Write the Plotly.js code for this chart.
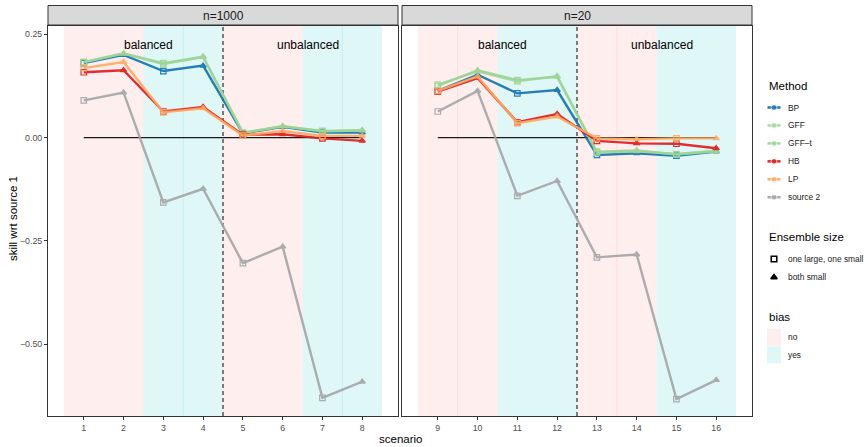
<!DOCTYPE html>
<html>
<head>
<meta charset="utf-8">
<script src="https://cdn.plot.ly/plotly-3.0.1.min.js"></script>
<style>html,body{margin:0;padding:0;background:#fff;}#chart{width:866px;height:447px;}</style>
</head>
<body>
<div id="chart"></div>
<script>
// ---------------- data ----------------
const scenarios = [1,2,3,4,5,6,7,8,9,10,11,12,13,14,15,16];
const panels = ['n=1000','n=20'];
const methods = ['BP','GFF','GFF\u2013t','HB','LP','source 2'];
const ensembleLabels = ['one large, one small','both small'];
const biasLabels = ['no','yes'];
const biasByScenario = ['no','no','yes','yes','no','no','yes','yes','no','no','yes','yes','no','no','yes','yes'];
const balanceLabels = ['balanced','unbalanced'];

const BP     = [0.180,0.200,0.161,0.174,0.010,0.026,0.012,0.012,  0.113,0.152,0.107,0.115,-0.042,-0.038,-0.044,-0.034];
const GFF    = [0.183,0.204,0.180,0.196,0.011,0.028,0.015,0.017,  0.128,0.160,0.136,0.149,-0.036,-0.033,-0.040,-0.032];
const GFFt   = [0.182,0.203,0.178,0.195,0.012,0.027,0.016,0.018,  0.125,0.163,0.139,0.147,-0.034,-0.031,-0.041,-0.033];
const HB     = [0.158,0.163,0.063,0.074,0.007,0.008,-0.002,-0.008, 0.111,0.144,0.037,0.057,-0.008,-0.014,-0.015,-0.026];
const LP     = [0.168,0.183,0.061,0.071,0.005,0.016,0.004,0.004,  0.113,0.148,0.035,0.051,-0.002,-0.004,-0.002,-0.002];
const SRC2   = [0.090,0.109,-0.157,-0.124,-0.304,-0.264,-0.630,-0.591, 0.063,0.113,-0.141,-0.105,-0.290,-0.283,-0.633,-0.587];
const series = [BP, GFF, GFFt, HB, LP, SRC2];

const yTicks = [-0.5,-0.25,0,0.25];

// ---------------- styles ----------------
const colors = ['#0F72B0','#A3DA9C','#9CD596','#DF1A1C','#FDAA5E','#A3A5A5'];
const biasFill = {no:'rgba(248,118,109,0.12)', yes:'rgba(0,191,196,0.12)'};
const symbolFor = s => (s % 2 === 1 ? 'square-open' : 'triangle-up');
const FONT = 'Liberation Sans, Arial, Helvetica, sans-serif';

const ML = 48, MR = 0, MT = 26, MB = 31, W = 866, H = 447;
const PW = W - ML - MR, PH = H - MT - MB;
const px = v => (v - ML) / PW;
const py = v => (H - MB - v) / PH;

const traces = [];
const xa = ['x','x2'], ya = ['y','y2'];
for (let p = 0; p < 2; p++) {
  const idx = scenarios.map((s,i)=>i).filter(i => (p === 0 ? scenarios[i] <= 8 : scenarios[i] > 8));
  const xs = idx.map(i => scenarios[i]);
  series.forEach((vals, m) => {
    traces.push({
      type:'scatter', mode:'lines+markers', xaxis:xa[p], yaxis:ya[p],
      x: xs, y: idx.map(i => vals[i]), name: methods[m], showlegend:false,
      opacity: 0.9,
      line:{color:colors[m], width:2.4},
      marker:{symbol: xs.map(symbolFor), size:5.5, color:colors[m], line:{color:colors[m], width:1.2}},
      hoverinfo:'skip'
    });
  });
}

// ---------------- manual legend (axis 3, pixel coordinates) ----------------
const annotations = [];
const shapes = [];
const LX0 = 767.5, LX1 = 780.5, LXC = 774, LTX = 785.5, LTITLE = 766.5;
const legTitle = (t, y) => annotations.push({xref:'x3', yref:'y3', x:LTITLE, y:y, text:t, showarrow:false,
  xanchor:'left', yanchor:'middle', font:{size:11.5, color:'#000', family:FONT}});
const legText = (t, y) => annotations.push({xref:'x3', yref:'y3', x:LTX, y:y, text:t, showarrow:false,
  xanchor:'left', yanchor:'middle', font:{size:8.4, color:'#1A1A1A', family:FONT}});

legTitle('Method', 86);
methods.forEach((m, i) => {
  const yy = 107.5 + i * 17.95;
  traces.push({type:'scatter', mode:'lines+markers', xaxis:'x3', yaxis:'y3', showlegend:false, hoverinfo:'skip',
    x:[LX0, LXC, LX1], y:[yy, yy, yy], line:{color:colors[i], width:2.5},
    marker:{size:[0,6,0], color:colors[i], symbol:'circle'}, opacity:0.95});
  legText(m, yy);
});
legTitle('Ensemble size', 237);
ensembleLabels.forEach((e, i) => {
  const yy = 259 + i * 18.3;
  traces.push({type:'scatter', mode:'markers', xaxis:'x3', yaxis:'y3', showlegend:false, hoverinfo:'skip',
    x:[LXC], y:[yy], marker:{symbol: i === 0 ? 'square-open' : 'triangle-up', size:5.5, color:'#000', line:{color:'#000', width:1.6}}});
  legText(e, yy);
});
legTitle('bias', 317);
biasLabels.forEach((b, i) => {
  const yy = 337.3 + i * 17.6;
  shapes.push({type:'rect', xref:'x3', yref:'y3', x0:767, x1:781, y0:yy-8.6, y1:yy+8.6,
    fillcolor:biasFill[b], line:{width:0}});
  legText(b, yy);
});

// ---------------- background rectangles, reference lines ----------------
for (let p = 0; p < 2; p++) {
  const idx = scenarios.map((s,i)=>i).filter(i => (p === 0 ? scenarios[i] <= 8 : scenarios[i] > 8));
  let start = idx[0];
  for (let k = 1; k <= idx.length; k++) {
    const i = idx[k];
    if (k === idx.length || biasByScenario[i] !== biasByScenario[start]) {
      const last = idx[k-1];
      shapes.push({type:'rect', xref:xa[p], yref:'paper', layer:'below',
        x0:scenarios[start]-0.5, x1:scenarios[last]+0.5, y0:0, y1:1,
        fillcolor:biasFill[biasByScenario[start]], line:{width:0}});
      start = i;
    }
  }
  const seams = p === 0 ? [[3.5,'yes'],[7.5,'yes']] : [[9.5,'no'],[13.5,'no']];
  seams.forEach(([sx, b]) => shapes.push({type:'line', xref:xa[p], yref:'paper', layer:'below',
    x0:sx, x1:sx, y0:0, y1:1, line:{color:biasFill[b], width:1}}));
  const xs = idx.map(i => scenarios[i]);
  const first = xs[0], lastX = xs[xs.length-1];
  shapes.push({type:'line', xref:xa[p], yref:ya[p], layer:'below', x0:first, x1:lastX, y0:0, y1:0,
    line:{color:'#1A1A1A', width:1.2}});
  const mid = (first + lastX) / 2;
  shapes.push({type:'line', xref:xa[p], yref:'paper', layer:'below', x0:mid, x1:mid, y0:0, y1:1,
    line:{color:'#1A1A1A', width:1.1, dash:'4px,3px'}});
  annotations.push({xref:xa[p], yref:ya[p], x:first + 1.63, y:0.224, text:balanceLabels[0], showarrow:false,
    font:{size:12, color:'#000', family:FONT}});
  annotations.push({xref:xa[p], yref:ya[p], x:first + 5.63, y:0.224, text:balanceLabels[1], showarrow:false,
    font:{size:12, color:'#000', family:FONT}});
  shapes.push({type:'rect', xref: xa[p] + ' domain', yref:'paper', x0:0, x1:1, y0:py(25), y1:py(5.5),
    fillcolor:'#D9D9D9', line:{color:'#333', width:1}});
  annotations.push({xref: xa[p] + ' domain', yref:'paper', x:0.5, y:py(15.5), text:panels[p], showarrow:false,
    yanchor:'middle', font:{size:12, color:'#1A1A1A', family:FONT}});
}

annotations.push({xref:'paper', yref:'paper', x:px(400), y:py(439), text:'scenario', showarrow:false,
  xanchor:'center', yanchor:'middle', font:{size:11.5, color:'#000', family:FONT}});
annotations.push({xref:'paper', yref:'paper', x:px(13), y:py(219), text:'skill wrt source 1', showarrow:false,
  textangle:-90, xanchor:'center', yanchor:'middle', font:{size:11.5, color:'#000', family:FONT}});

const baseX = {showgrid:false, zeroline:false, showline:true, mirror:true, linecolor:'#333', linewidth:1,
  ticks:'outside', ticklen:3, tickcolor:'#333', tickfont:{size:8.8, color:'#4D4D4D', family:FONT}, fixedrange:true};

const layout = {
  width:W, height:H, margin:{l:ML, r:MR, t:MT, b:MB, pad:0},
  paper_bgcolor:'#fff', plot_bgcolor:'#fff', showlegend:false,
  font:{family:FONT},
  xaxis: Object.assign({}, baseX, {domain:[0, px(398)], range:[0.1, 8.9], tickvals:scenarios.slice(0,8), anchor:'y'}),
  xaxis2: Object.assign({}, baseX, {domain:[px(402), px(752)], range:[8.1, 16.9], tickvals:scenarios.slice(8), anchor:'y2'}),
  yaxis: Object.assign({}, baseX, {domain:[0,1], range:[-0.674, 0.27], tickvals:yTicks, tickformat:'.2f', anchor:'x'}),
  yaxis2: Object.assign({}, baseX, {domain:[0,1], range:[-0.674, 0.27], matches:'y', showticklabels:false, ticks:'', anchor:'x2'}),
  xaxis3: {domain:[px(752), 1], range:[752, 866], visible:false, fixedrange:true, anchor:'y3'},
  yaxis3: {domain:[0,1], range:[H-MB, MT], visible:false, fixedrange:true, anchor:'x3'},
  shapes: shapes,
  annotations: annotations
};

Plotly.newPlot('chart', traces, layout, {displayModeBar:false, staticPlot:true});
</script>
</body>
</html>
